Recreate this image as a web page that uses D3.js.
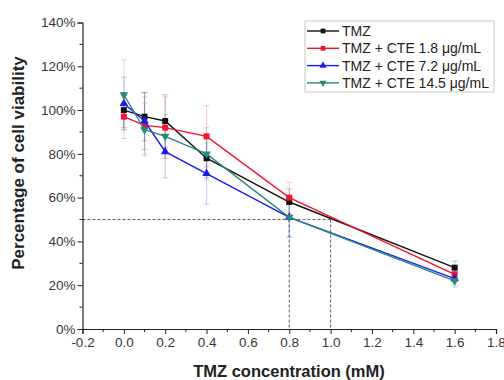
<!DOCTYPE html>
<html lang="en">
<head>
<meta charset="utf-8">
<title>TMZ viability</title>
<script src="https://d3js.org/d3.v7.min.js"></script>
<style>
	body { margin: 0; background: #fff; }
	svg text { font-family: "Liberation Sans", Arial, sans-serif; }
</style>
</head>
<body>
<div id="chart"></div>
<script>
// concentrations (mM)
var conc = [0, 0.1, 0.2, 0.4, 0.8, 1.6];

// viability (%) per group
var tmz      = [100, 97, 95, 78, 58, 28];
var cte18    = [97, 93, 92, 88, 60, 25];
var cte72    = [103, 95, 81, 71, 51, 23];
var cte145   = [107, 91, 88, 80, 51, 22];

// standard deviations (%)
var tmzErr    = [8, 11, 12, 9, 6, 3];
var cte18Err  = [10, 13, 14, 14, 7, 3];
var cte72Err  = [12, 13, 12, 14, 9, 3];
var cte145Err = [16, 12, 10, 12, 9, 3];

var seriesNames = ["TMZ", "TMZ + CTE 1.8 \u03bcg/mL", "TMZ + CTE 7.2 \u03bcg/mL", "TMZ + CTE 14.5 \u03bcg/mL"];
var xTicks = [-0.2, 0, 0.2, 0.4, 0.6, 0.8, 1.0, 1.2, 1.4, 1.6, 1.8];
var yTicks = [0, 20, 40, 60, 80, 100, 120, 140];

var series = [
	{name: seriesNames[0], vals: tmz,    err: tmzErr,    color: "#111111", sym: d3.symbolSquare},
	{name: seriesNames[1], vals: cte18,  err: cte18Err,  color: "#f0142d", sym: d3.symbolSquare},
	{name: seriesNames[2], vals: cte72,  err: cte72Err,  color: "#1a1aee", sym: d3.symbolTriangle},
	{name: seriesNames[3], vals: cte145, err: cte145Err, color: "#2a8a78", sym: d3.symbolTriangle, flip: true}
];

var width = 504, height = 380;
var mLeft = 82.5, mRight = 496, mTop = 22.5, mBottom = 329;

var svg = d3.select("#chart").append("svg")
	.attr("width", width)
	.attr("height", height);

var x = d3.scaleLinear().domain([-0.2, 1.8]).range([mLeft, mRight]);
var y = d3.scaleLinear().domain([0, 140]).range([mBottom, mTop]);

// dashed guide lines at 50%
var guide = svg.append("g")
	.attr("stroke", "#333")
	.attr("stroke-width", 0.8)
	.attr("stroke-dasharray", "3,2");
guide.append("line")
	.attr("x1", x(-0.2)).attr("x2", x(1.0))
	.attr("y1", y(50)).attr("y2", y(50));
[0.8, 1.0].forEach(function(v){
	guide.append("line")
		.attr("x1", x(v)).attr("x2", x(v))
		.attr("y1", y(50)).attr("y2", y(0));
});

// error bars (pale)
series.forEach(function(s){
	var g = svg.append("g")
		.attr("stroke", s.color)
		.attr("stroke-opacity", 0.2)
		.attr("stroke-width", 1.2);
	conc.forEach(function(c, i){
		var cx = x(c), hi = y(s.vals[i] + s.err[i]), lo = y(s.vals[i] - s.err[i]);
		g.append("line").attr("x1", cx).attr("x2", cx).attr("y1", hi).attr("y2", lo);
		g.append("line").attr("x1", cx - 3).attr("x2", cx + 3).attr("y1", hi).attr("y2", hi);
		g.append("line").attr("x1", cx - 3).attr("x2", cx + 3).attr("y1", lo).attr("y2", lo);
	});
});

// lines and markers
var line = d3.line()
	.x(function(d){ return x(d[0]); })
	.y(function(d){ return y(d[1]); });

series.forEach(function(s){
	var pts = conc.map(function(c, i){ return [c, s.vals[i]]; });
	svg.append("path")
		.attr("d", line(pts))
		.attr("fill", "none")
		.attr("stroke", s.color)
		.attr("stroke-width", 1.4);
	svg.selectAll(null)
		.data(pts)
		.enter()
		.append("path")
		.attr("d", d3.symbol().type(s.sym).size(s.sym === d3.symbolSquare ? 36 : 32))
		.attr("transform", function(d){
			return "translate(" + x(d[0]) + "," + y(d[1]) + ")" + (s.flip ? " rotate(180)" : "");
		})
		.attr("fill", s.color);
});

// axes
var xAxis = d3.axisBottom(x).tickValues(xTicks)
	.tickFormat(function(d){ return d3.format(".1f")(d).replace("\u2212", "-"); })
	.tickSize(5).tickPadding(3);
var yAxis = d3.axisLeft(y).tickValues(yTicks).tickFormat(function(d){ return d + "%"; }).tickSize(5).tickPadding(2);

var gx = svg.append("g").attr("transform", "translate(0," + mBottom + ")").call(xAxis);
var gy = svg.append("g").attr("transform", "translate(" + mLeft + ",0)").call(yAxis);

// minor ticks
gx.selectAll(".minor").data(d3.range(-0.1, 1.8, 0.2)).enter()
	.append("line").attr("class", "minor")
	.attr("x1", function(d){ return x(d); }).attr("x2", function(d){ return x(d); })
	.attr("y1", 0).attr("y2", 3).attr("stroke", "#222");
gy.selectAll(".minor").data(d3.range(10, 140, 20)).enter()
	.append("line").attr("class", "minor")
	.attr("y1", function(d){ return y(d); }).attr("y2", function(d){ return y(d); })
	.attr("x1", 0).attr("x2", -3).attr("stroke", "#222");

[gx, gy].forEach(function(g){
	g.select(".domain").attr("stroke", "#222").attr("stroke-width", 1.2);
	g.selectAll(".tick line").attr("stroke", "#222");
	g.selectAll("text").attr("font-size", 13.5).attr("fill", "#383838")
		.style("font-family", "'Liberation Sans', Arial, sans-serif");
});

// axis titles
svg.append("text")
	.attr("x", 289)
	.attr("y", 377)
	.attr("text-anchor", "middle")
	.attr("font-size", 16.5)
	.attr("font-weight", "bold")
	.attr("fill", "#222")
	.text("TMZ concentration (mM)");

svg.append("text")
	.attr("transform", "translate(24,163) rotate(-90)")
	.attr("text-anchor", "middle")
	.attr("font-size", 17)
	.attr("font-weight", "bold")
	.attr("fill", "#222")
	.text("Percentage of cell viability");

// legend
var lg = svg.append("g").attr("transform", "translate(305,21)");
lg.append("rect")
	.attr("width", 189).attr("height", 71)
	.attr("fill", "#fff").attr("stroke", "#bbb").attr("stroke-width", 0.8);
series.forEach(function(s, i){
	var ly = 10 + i * 17.3;
	lg.append("line")
		.attr("x1", 2).attr("x2", 34).attr("y1", ly).attr("y2", ly)
		.attr("stroke", s.color).attr("stroke-width", 1.4);
	lg.append("path")
		.attr("d", d3.symbol().type(s.sym).size(22))
		.attr("transform", "translate(18," + ly + ")" + (s.flip ? " rotate(180)" : ""))
		.attr("fill", s.color);
	lg.append("text")
		.attr("x", 37).attr("y", ly + 5)
		.attr("font-size", 14)
		.attr("fill", "#222")
		.text(s.name);
});
</script>
</body>
</html>
